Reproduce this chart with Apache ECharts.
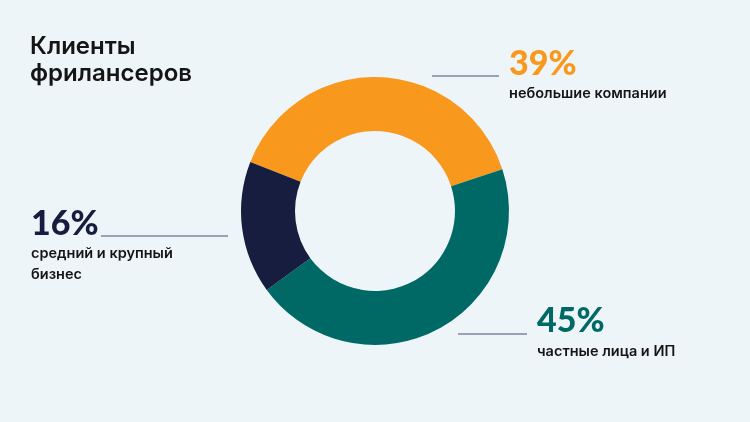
<!DOCTYPE html>
<html>
<head>
<meta charset="utf-8">
<script src="https://cdn.jsdelivr.net/npm/echarts@6/dist/echarts.min.js"></script>
<style>
  html, body { margin: 0; padding: 0; background: #eef5f9; }
  #chart { width: 750px; height: 422px; }
</style>
</head>
<body>
<div id="chart"></div>
<script>
'use strict';

// data, clockwise from the navy/orange seam
const names = ['небольшие компании', 'частные лица и ИП', 'средний и крупный\nбизнес'];
const values = [39, 45, 16];
const colors = ['#f8991d', '#006966', '#161d3f'];

// where each callout sits: [lineX1, lineX2, lineY, textX, pctY, nameY (middle of first line)]
const callouts = [
  [432, 499, 76, 509, 64, 94],
  [101, 228, 236, 31, 224, 254],
  [458, 527, 334, 537, 321, 352]
];
// callouts order above: orange, navy, teal -> map to data index
const calloutIndex = [0, 2, 1];

const font = 'Inter, "Noto Sans", sans-serif';
const nameLine = 21;
const chart = echarts.init(document.getElementById('chart'));

const graphics = [];
calloutIndex.forEach((di, k) => {
  const [x1, x2, ly, tx, py, ny] = callouts[k];
  graphics.push({
    type: 'line',
    shape: {x1: x1, y1: ly, x2: x2, y2: ly},
    style: {stroke: '#80869f', lineWidth: 1.4}
  });
  graphics.push({
    type: 'text',
    style: {
      x: tx, y: py, text: values[di] + '%',
      fill: colors[di], font: '900 34px Lato, ' + font,
      verticalAlign: 'middle'
    }
  });
  graphics.push({
    type: 'text',
    style: {
      x: tx, y: ny - nameLine / 2, text: names[di],
      fill: '#151515', font: '600 14.5px ' + font,
      verticalAlign: 'top', lineHeight: nameLine
    }
  });
});

chart.setOption({
  animation: false,
  backgroundColor: '#eef5f9',
  title: {
    text: 'Клиенты\nфрилансеров',
    left: 30,
    top: 33,
    padding: 0,
    textStyle: {fontFamily: font, fontSize: 24, fontWeight: 600, color: '#151515', lineHeight: 27}
  },
  series: [{
    type: 'pie',
    center: [375, 211],
    radius: [80, 134],
    startAngle: 158.5,
    silent: true,
    label: {show: false},
    labelLine: {show: false},
    data: values.map((v, i) => ({value: v, name: names[i], itemStyle: {color: colors[i]}}))
  }],
  graphic: graphics
});
</script>
</body>
</html>
